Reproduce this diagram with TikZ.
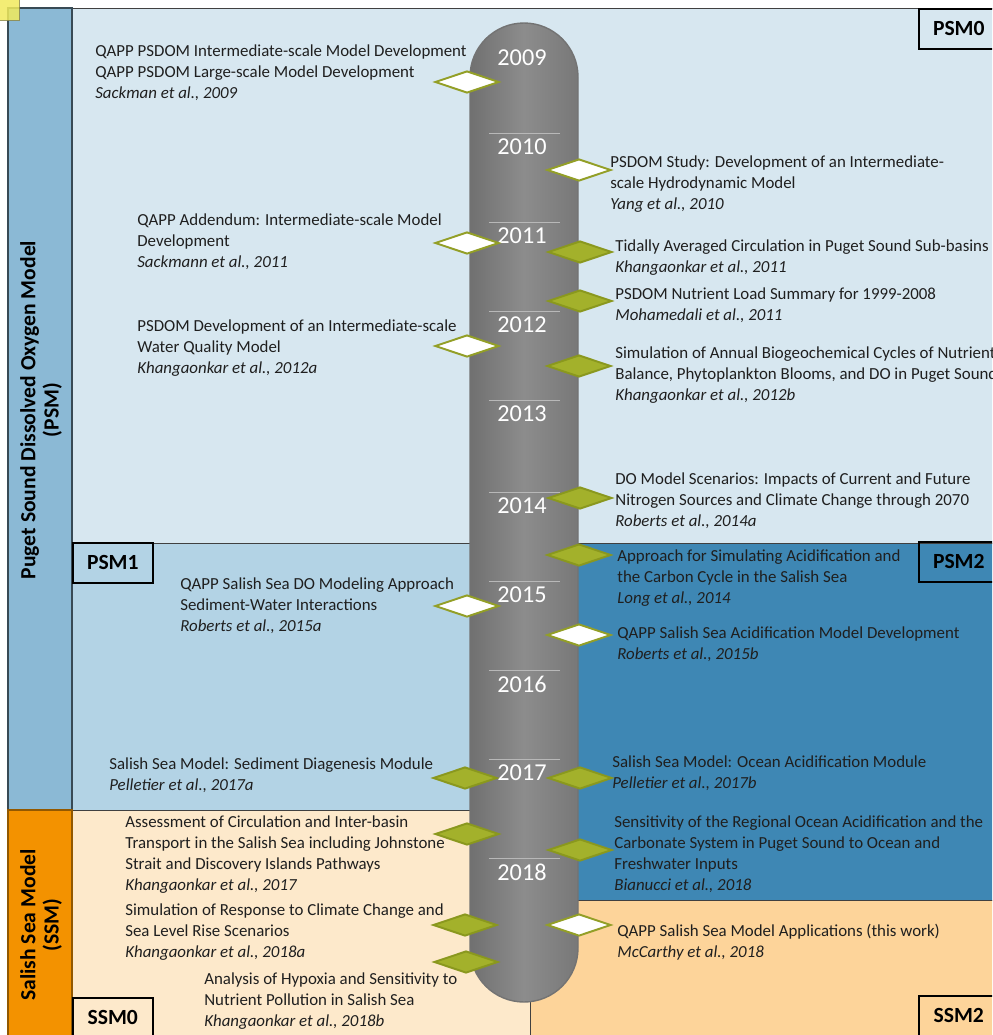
\documentclass[tikz,border=0pt]{standalone}
\usepackage{fontspec}
\setmainfont{Carlito}
\usetikzlibrary{shapes.geometric,positioning}

\definecolor{psmbar}{HTML}{8BB9D5}
\definecolor{psmzero}{HTML}{D7E7F0}
\definecolor{psmone}{HTML}{B3D3E5}
\definecolor{psmtwo}{HTML}{3E87B4}
\definecolor{ssmbar}{HTML}{F39200}
\definecolor{ssmzero}{HTML}{FDE9CB}
\definecolor{ssmtwo}{HTML}{FDD49A}
\definecolor{olive}{HTML}{A3B12B}
\definecolor{olivedark}{HTML}{8A981E}
\definecolor{edge}{HTML}{404040}

\begin{document}
\begin{tikzpicture}[x=0.02cm,y=-0.02cm,
		entry/.style={anchor=west, align=left, inner sep=0pt, text=black!88, font=\fontsize{9.6}{11.95}\selectfont},
		tag/.style={draw=black, line width=0.9pt, anchor=north west, minimum width=1.6cm, minimum height=0.8cm, inner sep=0pt, font=\fontsize{12.3}{14}\selectfont\bfseries},
		sidelabel/.style={rotate=90, align=center, inner sep=0pt, font=\fontsize{12.3}{13.2}\selectfont\bfseries},
		year/.style={text=white, inner sep=0pt, font=\fontsize{13.8}{15}\selectfont},
		milestone/.style={diamond, inner sep=0pt, minimum width=1.28cm, minimum height=0.44cm, line width=1.1pt},
		open/.style={milestone, fill=white, draw=olive!90!black},
		done/.style={milestone, fill=olive, draw=olivedark},
		region/.style={draw=edge, line width=0.5pt}]
	\useasboundingbox (0,0) rectangle (992,1035);
	\clip (0,0) rectangle (992,1035);

	% background panels
	\fill[white] (0,0) rectangle (992,1035);
	\filldraw[region, fill=psmzero] (72,8) rectangle (1000,543);
	\filldraw[region, fill=psmone] (72,543) rectangle (524,810);
	\filldraw[region, fill=psmtwo] (524,543) rectangle (1000,900);
	\filldraw[region, fill=ssmzero] (72,810) rectangle (530,1040);
	\filldraw[region, fill=ssmtwo] (530,900) rectangle (1000,1040);
	\filldraw[fill=psmbar, draw=psmbar!40!black, line width=0.6pt] (8,8) rectangle (72,810);
	\filldraw[fill=ssmbar, draw=ssmbar!60!black, line width=0.6pt] (8,810) rectangle (72,1040);
	\filldraw[fill=yellow!75!olive!70, draw=yellow!50!black, opacity=0.85] (-2,-2) rectangle (19,20);

	\node[sidelabel] (psm) at (41,410) {Puget Sound Dissolved Oxygen Model\\(PSM)};
	\node[sidelabel] (ssm) at (41,925) {Salish Sea Model\\(SSM)};

	\node[tag] (psm0) at (918,8) {PSM0};
	\node[tag] (psm1) at (72,542) {PSM1};
	\node[tag] (psm2) at (918,541) {PSM2};
	\node[tag] (ssm0) at (72,997) {SSM0};
	\node[tag] (ssm2) at (918,995) {SSM2};

	% timeline
	\draw[draw=black!55, line width=0.8pt, rounded corners=1.08cm, left color=black!56, right color=black!53, middle color=black!45]
		(470,23) rectangle (578,1002);
	\foreach \yr/\ypos in {2010/147,2011/236,2012/325,2013/414,2014/506,2015/595,2016/684,2017/773,2018/872}
		\draw[black!28, line width=0.5pt] (489,\ypos-14) -- (560,\ypos-14);
	\foreach \yr/\ypos in {2009/58,2010/147,2011/236,2012/325,2013/414,2014/506,2015/595,2016/684,2017/773,2018/872}
		\node[year] (y\yr) at (522,\ypos) {\yr};

	% milestones, left side
	\node[open] (dL1) at (467,82)  {};
	\node[open] (dL2) at (467,243) {};
	\node[open] (dL3) at (467,346) {};
	\node[open] (dL4) at (467,606) {};
	\node[done] (dL5) at (465,778) {};
	\node[done] (dL6) at (467,834) {};
	\node[done] (dL7) at (465,925) {};
	\node[done] (dL8) at (466,962) {};

	% milestones, right side
	\node[open] (dR1)  at (579,170) {};
	\node[done] (dR2)  at (580,252) {};
	\node[done] (dR3)  at (580,301) {};
	\node[done] (dR4)  at (579,366) {};
	\node[done] (dR5)  at (580,498) {};
	\node[done] (dR6)  at (579,555) {};
	\node[open] (dR7)  at (579,635) {};
	\node[done] (dR8)  at (580,778) {};
	\node[done] (dR9)  at (580,850) {};
	\node[open] (dR10) at (579,925) {};

	% reports, left side
	\node[entry] (L1) at (95,73) {QAPP PSDOM Intermediate-scale Model Development\\QAPP PSDOM Large-scale Model Development\\\textit{Sackman et al., 2009}};
	\node[entry] (L2) at (137,241.5) {QAPP Addendum: Intermediate-scale Model\\Development\\\textit{Sackmann et al., 2011}};
	\node[entry] (L3) at (137,348) {PSDOM Development of an Intermediate-scale\\Water Quality Model\\\textit{Khangaonkar et al., 2012a}};
	\node[entry] (L4) at (180,605.5) {QAPP Salish Sea DO Modeling Approach\\Sediment-Water Interactions\\\textit{Roberts et al., 2015a}};
	\node[entry] (L5) at (109,775.5) {Salish Sea Model: Sediment Diagenesis Module\\\textit{Pelletier et al., 2017a}};
	\node[entry] (L6) at (125,854.5) {Assessment of Circulation and Inter-basin\\Transport in the Salish Sea including Johnstone\\Strait and Discovery Islands Pathways\\\textit{Khangaonkar et al., 2017}};
	\node[entry] (L7) at (125,932.5) {Simulation of Response to Climate Change and\\Sea Level Rise Scenarios\\\textit{Khangaonkar et al., 2018a}};
	\node[entry] (L8) at (204,1001) {Analysis of Hypoxia and Sensitivity to\\Nutrient Pollution in Salish Sea\\\textit{Khangaonkar et al., 2018b}};

	% reports, right side
	\node[entry] (R1) at (610,184) {PSDOM Study: Development of an Intermediate-\\scale Hydrodynamic Model\\\textit{Yang et al., 2010}};
	\node[entry] (R2) at (615,257.5) {Tidally Averaged Circulation in Puget Sound Sub-basins\\\textit{Khangaonkar et al., 2011}};
	\node[entry] (R3) at (615,305.5) {PSDOM Nutrient Load Summary for 1999-2008\\\textit{Mohamedali et al., 2011}};
	\node[entry] (R4) at (615,375) {Simulation of Annual Biogeochemical Cycles of Nutrient\\Balance, Phytoplankton Blooms, and DO in Puget Sound\\\textit{Khangaonkar et al., 2012b}};
	\node[entry] (R5) at (615,500.5) {DO Model Scenarios: Impacts of Current and Future\\Nitrogen Sources and Climate Change through 2070\\\textit{Roberts et al., 2014a}};
	\node[entry] (R6) at (617,578.5) {Approach for Simulating Acidification and\\the Carbon Cycle in the Salish Sea\\\textit{Long et al., 2014}};
	\node[entry] (R7) at (617,644) {QAPP Salish Sea Acidification Model Development\\\textit{Roberts et al., 2015b}};
	\node[entry] (R8) at (612,773.5) {Salish Sea Model: Ocean Acidification Module\\\textit{Pelletier et al., 2017b}};
	\node[entry] (R9) at (614,854.5) {Sensitivity of the Regional Ocean Acidification and the\\Carbonate System in Puget Sound to Ocean and\\Freshwater Inputs\\\textit{Bianucci et al., 2018}};
	\node[entry] (R10) at (617,942.5) {QAPP Salish Sea Model Applications (this work)\\\textit{McCarthy et al., 2018}};
\end{tikzpicture}
\end{document}
